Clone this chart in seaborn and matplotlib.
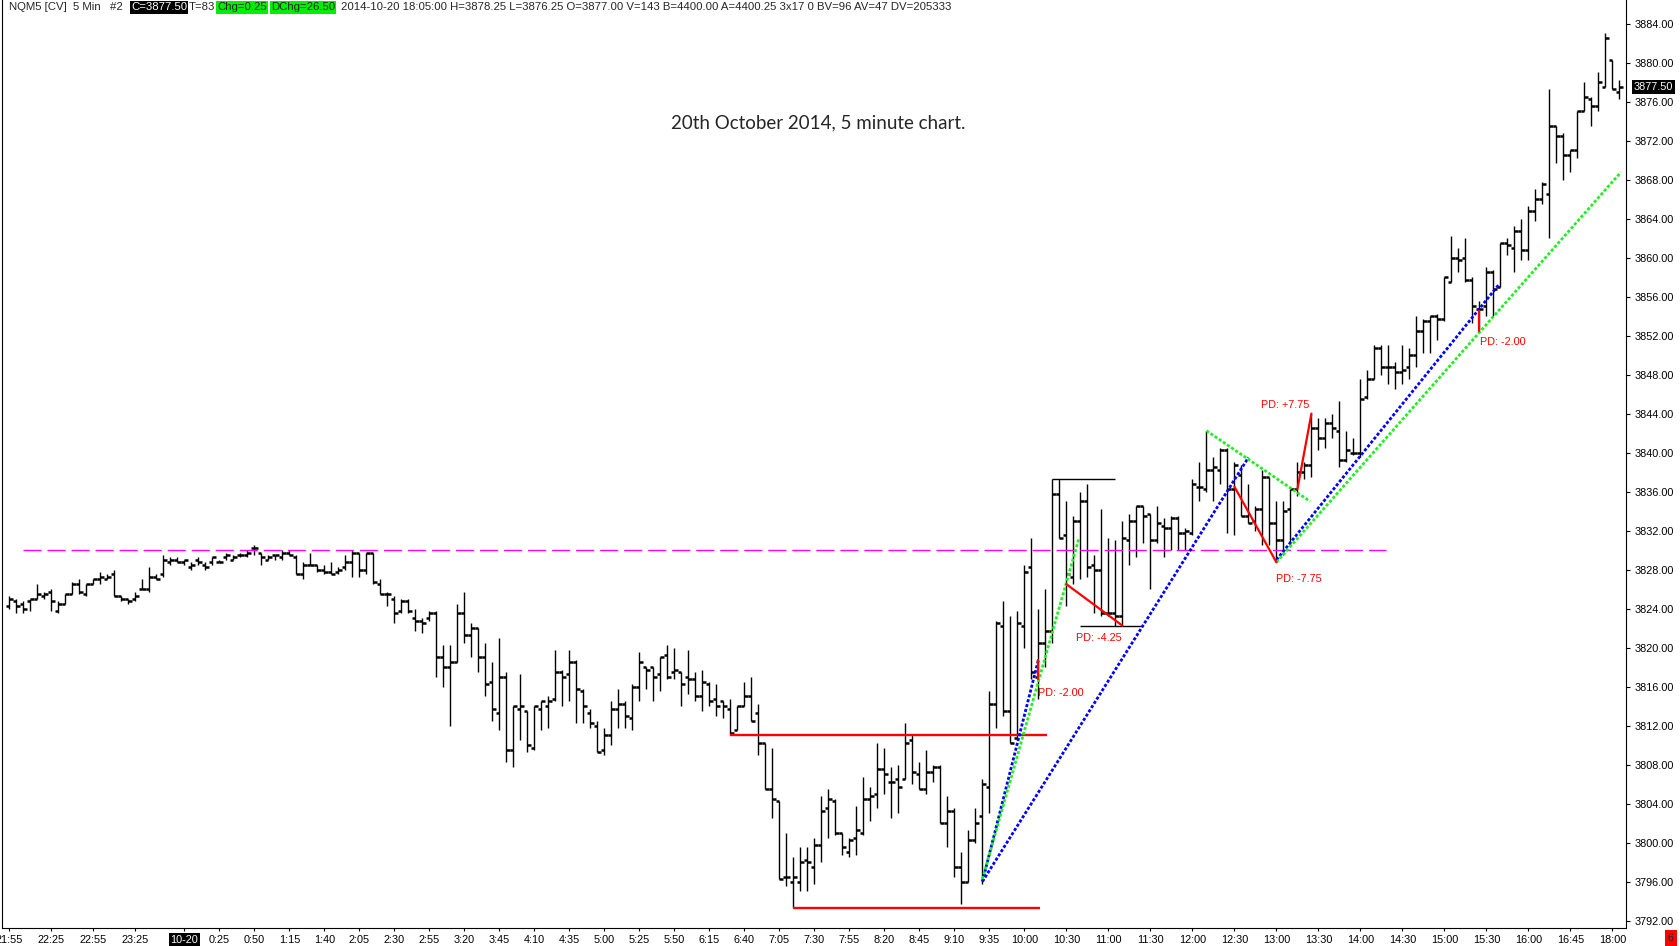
import numpy as np
import pandas as pd
import seaborn as sns
import matplotlib.pyplot as plt
from matplotlib import transforms

# NQ 5 minute bars, index 0 = 10-20 00:00
bar_idx = np.arange(-25, 206)

opens = [
    3824.25, 3824.75, 3824.5, 3824.75, 3825.0, 3825.25, 3825.75, 3823.75, 3824.5, 3825.5,
    3826.5, 3825.5, 3826.5, 3827.0, 3827.0, 3827.5, 3825.25, 3825.0, 3825.0, 3826.0,
    3826.0, 3827.25, 3827.5, 3828.75, 3829.0, 3828.75, 3828.25, 3829.0, 3828.5, 3828.75,
    3828.75, 3829.25, 3829.0, 3829.5, 3829.5, 3830.25, 3829.75, 3829.0, 3829.5, 3829.25,
    3829.75, 3829.25, 3827.5, 3828.5, 3828.5, 3828.0, 3827.75, 3827.75, 3828.25, 3828.75,
    3829.75, 3828.0, 3829.75, 3826.5, 3825.5, 3825.0, 3823.75, 3824.75, 3823.0, 3822.75,
    3823.0, 3823.5, 3819.0, 3818.0, 3818.5, 3823.5, 3821.25, 3822.0, 3819.0, 3816.5,
    3813.25, 3817.0, 3809.5, 3813.75, 3813.5, 3809.75, 3813.75, 3814.0, 3814.75, 3817.5,
    3817.25, 3818.5, 3815.5, 3813.25, 3812.0, 3809.5, 3811.0, 3813.75, 3814.25, 3812.75,
    3816.0, 3818.0, 3818.0, 3817.25, 3819.25, 3817.5, 3817.5, 3817.0, 3816.75, 3815.0,
    3816.25, 3814.75, 3814.5, 3813.75, 3811.5, 3814.0, 3815.0, 3813.25, 3810.25, 3805.5,
    3804.25, 3796.5, 3796.0, 3796.0, 3798.25, 3797.5, 3799.75, 3803.5, 3804.25, 3801.0,
    3799.0, 3800.5, 3801.0, 3804.5, 3805.0, 3807.5, 3806.25, 3806.5, 3806.5, 3810.5,
    3807.0, 3805.5, 3807.25, 3807.75, 3802.0, 3803.25, 3797.5, 3796.0, 3800.25, 3802.75,
    3805.75, 3814.25, 3822.25, 3813.5, 3810.75, 3822.25, 3828.25, 3817.0, 3820.5, 3821.75,
    3835.75, 3831.5, 3827.25, 3833.0, 3835.0, 3828.5, 3828.0, 3823.5, 3823.5, 3823.25,
    3831.0, 3833.0, 3834.5, 3833.75, 3831.0, 3832.5, 3832.25, 3833.25, 3831.75, 3831.75,
    3836.5, 3836.25, 3838.25, 3838.25, 3840.25, 3836.25, 3837.75, 3833.5, 3833.0, 3834.25,
    3837.5, 3832.75, 3831.0, 3834.25, 3836.25, 3838.0, 3838.75, 3842.5, 3841.5, 3843.0,
    3842.25, 3839.25, 3840.0, 3840.0, 3845.75, 3847.5, 3850.75, 3848.75, 3848.75, 3848.25,
    3848.75, 3850.0, 3852.5, 3853.5, 3854.0, 3853.75, 3857.5, 3860.0, 3860.0, 3857.75,
    3854.75, 3855.0, 3858.5, 3857.0, 3861.5, 3861.0, 3862.75, 3860.75, 3864.75, 3866.0,
    3866.5, 3873.5, 3872.5, 3870.5, 3871.0, 3875.0, 3876.25, 3875.5, 3877.5, 3880.25, 3877.0,
]
highs = [
    3825.25, 3825.0, 3824.75, 3825.0, 3826.5, 3825.75, 3826.0, 3824.75, 3825.5, 3826.75,
    3827.0, 3826.5, 3827.0, 3827.75, 3827.5, 3828.0, 3825.25, 3825.0, 3825.75, 3827.0,
    3828.25, 3827.5, 3829.5, 3829.25, 3829.25, 3829.0, 3828.75, 3829.25, 3828.75, 3829.25,
    3829.0, 3829.75, 3829.5, 3829.75, 3830.0, 3830.5, 3829.75, 3829.5, 3829.5, 3830.0,
    3830.0, 3829.5, 3828.75, 3829.75, 3828.5, 3828.5, 3828.75, 3828.25, 3829.5, 3830.0,
    3829.75, 3829.75, 3829.75, 3827.0, 3825.75, 3825.25, 3825.0, 3825.0, 3824.0, 3823.0,
    3823.75, 3823.75, 3820.25, 3820.25, 3824.5, 3825.75, 3822.5, 3822.0, 3820.5, 3818.5,
    3821.0, 3817.5, 3814.0, 3817.25, 3813.5, 3814.0, 3814.5, 3815.0, 3819.75, 3817.75,
    3819.75, 3818.75, 3815.75, 3813.75, 3812.5, 3811.75, 3814.5, 3815.75, 3814.5, 3816.25,
    3819.5, 3818.0, 3818.0, 3819.0, 3820.25, 3820.0, 3817.5, 3819.75, 3817.5, 3817.75,
    3816.5, 3816.25, 3814.5, 3814.75, 3814.0, 3816.5, 3817.0, 3814.25, 3810.25, 3809.75,
    3804.25, 3801.0, 3798.5, 3799.5, 3799.5, 3800.5, 3804.75, 3805.5, 3804.5, 3801.0,
    3800.5, 3803.75, 3806.75, 3805.75, 3810.25, 3809.75, 3807.75, 3808.0, 3812.25, 3811.0,
    3808.25, 3809.5, 3808.0, 3808.0, 3804.75, 3803.5, 3799.0, 3801.25, 3803.5, 3806.5,
    3815.5, 3822.75, 3824.75, 3823.25, 3823.75, 3828.5, 3831.25, 3824.0, 3826.0, 3837.25,
    3837.25, 3835.0, 3833.5, 3836.0, 3836.75, 3829.5, 3834.25, 3831.25, 3831.0, 3833.0,
    3833.75, 3834.5, 3834.5, 3833.75, 3834.5, 3833.25, 3833.5, 3833.5, 3832.25, 3837.25,
    3839.0, 3842.25, 3839.5, 3840.5, 3840.5, 3839.0, 3838.75, 3836.75, 3834.5, 3838.25,
    3837.5, 3835.0, 3835.0, 3836.25, 3839.0, 3839.0, 3844.0, 3843.5, 3843.5, 3844.0,
    3845.25, 3842.25, 3841.5, 3847.5, 3848.5, 3851.0, 3851.0, 3851.0, 3849.25, 3851.0,
    3850.75, 3854.0, 3853.75, 3854.0, 3854.25, 3858.0, 3862.25, 3861.0, 3862.0, 3858.0,
    3855.5, 3859.0, 3858.75, 3861.5, 3862.0, 3863.25, 3864.0, 3865.25, 3867.0, 3867.75,
    3877.25, 3873.5, 3872.75, 3871.0, 3875.0, 3878.0, 3876.5, 3879.0, 3883.0, 3880.25, 3878.25,
]
lows = [
    3824.0, 3823.5, 3823.5, 3823.75, 3825.0, 3825.0, 3823.75, 3823.5, 3824.5, 3825.5,
    3825.5, 3825.25, 3826.5, 3826.5, 3827.0, 3825.25, 3824.75, 3824.5, 3824.75, 3826.0,
    3825.75, 3827.0, 3827.25, 3828.5, 3828.75, 3828.5, 3828.0, 3828.5, 3828.0, 3828.5,
    3828.75, 3829.0, 3829.0, 3829.25, 3829.25, 3829.5, 3828.5, 3829.0, 3829.0, 3829.0,
    3829.5, 3827.5, 3827.0, 3828.5, 3827.75, 3827.5, 3827.5, 3827.5, 3828.0, 3827.25,
    3827.25, 3827.5, 3826.5, 3825.5, 3824.25, 3822.5, 3823.5, 3823.5, 3821.75, 3821.5,
    3822.75, 3817.0, 3816.0, 3812.0, 3818.5, 3820.5, 3819.0, 3817.5, 3815.0, 3812.5,
    3811.5, 3808.25, 3807.75, 3810.5, 3809.25, 3809.5, 3811.5, 3811.75, 3814.5, 3814.0,
    3814.5, 3812.25, 3812.25, 3811.75, 3809.25, 3809.0, 3810.0, 3811.75, 3811.75, 3811.5,
    3814.5, 3815.75, 3814.5, 3815.5, 3816.75, 3816.75, 3814.0, 3815.25, 3814.5, 3813.5,
    3814.0, 3813.0, 3812.75, 3811.0, 3811.5, 3814.0, 3812.5, 3809.0, 3805.5, 3802.5,
    3796.25, 3795.5, 3793.25, 3795.0, 3795.0, 3795.75, 3798.0, 3800.5, 3800.75, 3798.75,
    3798.5, 3798.75, 3800.75, 3802.25, 3803.5, 3805.0, 3802.5, 3803.0, 3806.5, 3806.0,
    3805.5, 3805.0, 3806.25, 3802.0, 3799.5, 3796.5, 3793.75, 3796.0, 3800.0, 3795.75,
    3803.0, 3811.75, 3813.0, 3810.25, 3810.75, 3820.0, 3816.75, 3814.75, 3818.0, 3820.5,
    3831.25, 3824.25, 3826.5, 3827.0, 3827.25, 3823.5, 3823.25, 3823.25, 3822.25, 3822.25,
    3828.5, 3829.25, 3830.75, 3826.0, 3830.75, 3829.25, 3830.0, 3830.0, 3830.0, 3831.5,
    3835.0, 3836.0, 3835.0, 3836.75, 3831.75, 3831.5, 3833.5, 3832.75, 3832.0, 3830.5,
    3830.5, 3828.75, 3829.5, 3830.5, 3835.5, 3837.25, 3837.5, 3840.25, 3840.5, 3841.5,
    3838.5, 3839.0, 3839.75, 3839.5, 3845.5, 3847.5, 3848.0, 3847.0, 3846.5, 3847.0,
    3847.5, 3848.75, 3850.25, 3850.25, 3851.5, 3853.5, 3857.5, 3858.5, 3857.5, 3853.25,
    3852.5, 3854.0, 3854.0, 3857.0, 3860.25, 3858.5, 3859.75, 3859.75, 3863.75, 3865.5,
    3862.0, 3869.75, 3868.0, 3868.75, 3870.25, 3875.0, 3873.5, 3875.0, 3877.5, 3877.25, 3876.25,
]
closes = [
    3825.0, 3824.25, 3824.0, 3825.0, 3825.5, 3825.5, 3824.75, 3824.5, 3825.5, 3826.5,
    3825.75, 3826.5, 3827.0, 3827.25, 3827.25, 3825.25, 3825.0, 3824.75, 3825.25, 3826.0,
    3827.25, 3827.0, 3829.0, 3829.0, 3828.75, 3829.0, 3828.5, 3828.75, 3828.25, 3829.25,
    3828.75, 3829.5, 3829.25, 3829.5, 3829.75, 3830.25, 3829.25, 3829.25, 3829.5, 3829.75,
    3829.5, 3827.5, 3828.5, 3828.5, 3828.0, 3827.75, 3827.5, 3828.0, 3828.75, 3829.75,
    3828.0, 3829.75, 3826.75, 3825.5, 3825.5, 3823.5, 3824.75, 3823.75, 3822.75, 3822.5,
    3823.5, 3819.0, 3818.0, 3818.5, 3823.5, 3821.25, 3822.0, 3819.0, 3816.25, 3813.75,
    3817.0, 3809.5, 3814.0, 3814.0, 3810.0, 3814.0, 3814.5, 3814.5, 3817.5, 3817.0,
    3818.5, 3815.75, 3814.0, 3812.25, 3809.25, 3811.0, 3813.75, 3814.25, 3813.0, 3816.0,
    3818.5, 3817.75, 3817.0, 3819.0, 3817.0, 3817.75, 3816.25, 3816.75, 3815.0, 3816.5,
    3814.5, 3814.0, 3814.0, 3811.25, 3814.0, 3815.0, 3812.5, 3810.25, 3805.5, 3804.5,
    3796.25, 3796.5, 3796.5, 3798.0, 3798.0, 3799.75, 3803.25, 3804.5, 3801.0, 3799.5,
    3800.25, 3801.25, 3804.5, 3804.75, 3807.5, 3807.0, 3806.25, 3805.75, 3810.25, 3807.25,
    3805.5, 3807.25, 3807.75, 3802.0, 3803.25, 3797.5, 3796.0, 3800.25, 3802.0, 3806.0,
    3814.25, 3822.5, 3813.5, 3810.25, 3822.5, 3827.75, 3817.5, 3820.5, 3821.75, 3835.75,
    3831.25, 3827.5, 3833.0, 3835.0, 3828.25, 3828.0, 3823.5, 3823.5, 3823.25, 3831.25,
    3833.0, 3834.5, 3833.5, 3831.0, 3832.75, 3832.25, 3833.25, 3831.75, 3832.0, 3836.75,
    3836.5, 3838.25, 3838.5, 3840.25, 3836.25, 3838.75, 3833.5, 3832.75, 3834.25, 3837.5,
    3832.75, 3831.0, 3834.0, 3836.25, 3838.0, 3838.75, 3842.5, 3841.5, 3843.0, 3842.5,
    3839.25, 3840.25, 3840.0, 3845.5, 3847.5, 3850.75, 3848.75, 3848.75, 3848.25, 3848.5,
    3850.0, 3852.5, 3853.5, 3854.0, 3853.75, 3858.0, 3860.0, 3859.75, 3857.75, 3855.0,
    3854.75, 3858.5, 3856.75, 3861.5, 3861.25, 3862.75, 3860.75, 3864.75, 3866.0, 3867.5,
    3873.5, 3872.5, 3870.5, 3871.0, 3875.0, 3876.5, 3875.5, 3878.0, 3882.5, 3877.25, 3877.5,
]

time_pos = [-25, -19, -13, -7, 0, 5, 10, 15, 20, 25, 30, 35, 40, 45, 50, 55, 60, 65,
            70, 75, 80, 85, 90, 95, 100, 105, 110, 115, 120, 126, 132, 138, 144, 150,
            156, 162, 168, 174, 180, 186, 192, 198, 204]
time_labels = ["21:55", "22:25", "22:55", "23:25", "10-20", "0:25", "0:50", "1:15", "1:40",
               "2:05", "2:30", "2:55", "3:20", "3:45", "4:10", "4:35", "5:00", "5:25",
               "5:50", "6:15", "6:40", "7:05", "7:30", "7:55", "8:20", "8:45", "9:10",
               "9:35", "10:00", "10:30", "11:00", "11:30", "12:00", "12:30", "13:00",
               "13:30", "14:00", "14:30", "15:00", "15:30", "16:00", "16:45", "18:00"]
price_ticks = np.arange(3792, 3885, 4)

# drawn annotations: (x0, y0, x1, y1)
green_dotted = [(114, 3796.25, 127.8, 3831.25), (146, 3842.25, 160.8, 3835.0),
                (156, 3828.75, 205.2, 3868.75)]
blue_dotted = [(114, 3796.0, 122, 3818.75), (114, 3796.0, 152, 3839.5),
               (156, 3829.0, 187.8, 3857.25)]
red_legs = [(126, 3826.5, 134, 3822.25), (150, 3836.5, 156, 3828.75),
            (159, 3836.25, 161, 3844.0), (122, 3818.75, 122, 3816.75),
            (185, 3854.5, 185, 3852.5)]
red_levels = [(3811.0, 78, 123.2), (3793.25, 87, 122.2)]
black_levels = [(3837.25, 124, 132.9), (3822.25, 127.9, 136.8)]
pd_labels = [(121.9, 3815.3, "PD: -2.00"), (127.3, 3821.0, "PD: -4.25"),
             (153.8, 3844.9, "PD: +7.75"), (156.0, 3827.0, "PD: -7.75"),
             (185.1, 3851.3, "PD: -2.00")]

bars = pd.DataFrame({"idx": bar_idx, "open": opens, "high": highs,
                     "low": lows, "close": closes})
assert len(opens) == len(highs) == len(lows) == len(closes) == len(bar_idx)

sns.set_style("white")
plt.rcParams['font.family'] = ['Liberation Sans', 'DejaVu Sans']

W, H = 1680, 946
fig = plt.figure(figsize=(W / 100, H / 100), dpi=100)
ax = fig.add_axes([2 / W, 18 / H, 1624 / W, 928 / H])

ax.vlines(bars["idx"], bars["low"], bars["high"], color="black", lw=1.0)
ax.hlines(bars["open"], bars["idx"] - 0.45, bars["idx"], color="black", lw=1.8)
ax.hlines(bars["close"], bars["idx"], bars["idx"] + 0.45, color="black", lw=1.8)

ax.hlines(3830.0, -23, 171.7, color="#ff00ff", lw=1.0, linestyles=(0, (13, 4.3)))
for y, x0, x1 in red_levels:
    ax.hlines(y, x0, x1, color="#ff0000", lw=1.7)
for y, x0, x1 in black_levels:
    ax.hlines(y, x0, x1, color="black", lw=1.0)
for x0, y0, x1, y1 in blue_dotted:
    ax.plot([x0, x1], [y0, y1], color="#0000ff", lw=2.0, dashes=(1.1, 0.7))
for x0, y0, x1, y1 in green_dotted:
    ax.plot([x0, x1], [y0, y1], color="#22ee22", lw=2.0, dashes=(1.1, 0.7))
for x0, y0, x1, y1 in red_legs:
    ax.plot([x0, x1], [y0, y1], color="#ff0000", lw=1.6)
for x, y, s in pd_labels:
    ax.text(x, y, s, color="#ff0000", fontsize=7.8, ha="left", va="center")

ax.set_xlim(-26.06, 205.94)
ax.set_ylim(3791.24, 3886.42)

ax.yaxis.tick_right()
ax.set_yticks(price_ticks)
ax.set_yticklabels([f"{p:.2f}" for p in price_ticks])
ax.set_xticks(time_pos)
ax.set_xticklabels(time_labels)
ax.tick_params(axis="y", direction="out", length=3, width=0.8, pad=3,
               labelsize=7.8, right=True, left=False, colors="black")
ax.tick_params(axis="x", direction="out", length=2, width=0.8, pad=3,
               labelsize=7.8, bottom=True, colors="black")
for lab in ax.get_xticklabels():
    if lab.get_text() == "10-20":
        lab.set_color("white")
        lab.set_bbox(dict(facecolor="black", edgecolor="none", pad=1.2))

for side in ["left", "right", "bottom"]:
    ax.spines[side].set_visible(True)
    ax.spines[side].set_color("black")
    ax.spines[side].set_linewidth(0.8)
ax.spines["top"].set_visible(False)

# last price box on the price axis
trans = transforms.blended_transform_factory(ax.transAxes, ax.transData)
ax.text(1.0049, 3877.5, "3877.50", transform=trans, ha="left", va="center",
        fontsize=7.8, color="white", clip_on=False,
        bbox=dict(facecolor="black", edgecolor="none", pad=1.2))

fig.text(1671 / W, 1 - 938 / H, "6", ha="center", va="center", fontsize=7.8,
         bbox=dict(facecolor="#ff0000", edgecolor="none", pad=2.5))

# header line
hy = 1 - 7.5 / H
hs = 8.2
fig.text(9 / W, hy, "NQM5 [CV]  5 Min   #2", fontsize=hs, va="center")
fig.text(131 / W, hy, "C=3877.50", fontsize=hs, va="center", color="white",
         bbox=dict(facecolor="black", edgecolor="none", pad=1))
fig.text(189 / W, hy, "T=83", fontsize=hs, va="center")
fig.text(217 / W, hy, "Chg=0.25", fontsize=hs, va="center",
         bbox=dict(facecolor="#00ee00", edgecolor="none", pad=1))
fig.text(271 / W, hy, "DChg=26.50", fontsize=hs, va="center",
         bbox=dict(facecolor="#00ee00", edgecolor="none", pad=1))
fig.text(341 / W, hy, "2014-10-20 18:05:00 H=3878.25 L=3876.25 O=3877.00 V=143 "
         "B=4400.00 A=4400.25 3x17 0 BV=96 AV=47 DV=205333", fontsize=hs, va="center")

fig.text(818 / W, 1 - 123 / H, "20th October 2014, 5 minute chart.", ha="center",
         va="center", fontsize=13.5, family=["Lato", "DejaVu Sans"])

fig.savefig("out.png", dpi=100)
